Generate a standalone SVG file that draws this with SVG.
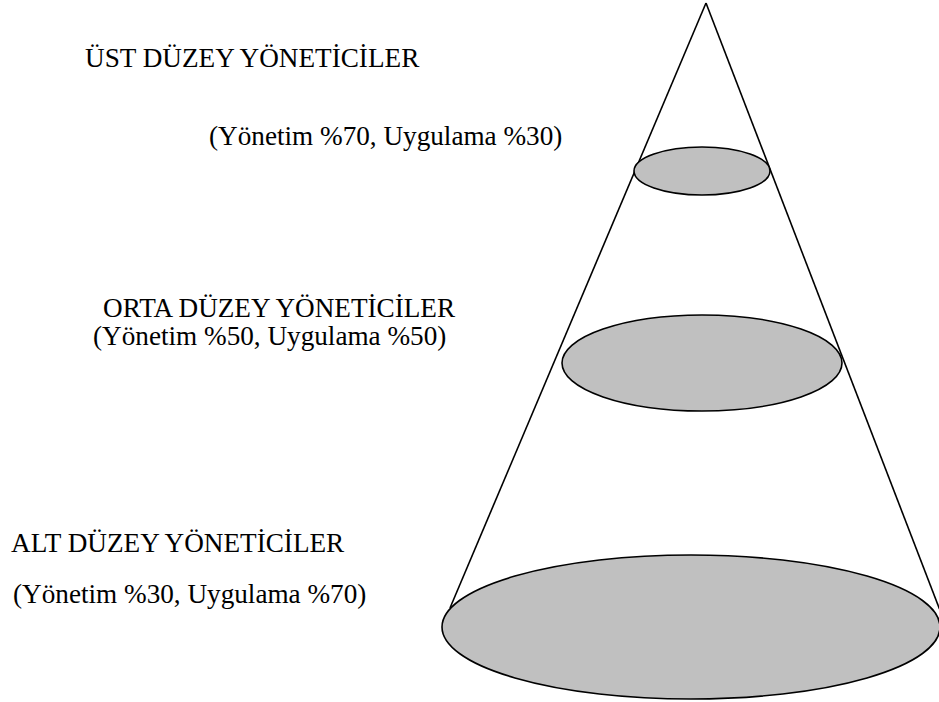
<svg xmlns="http://www.w3.org/2000/svg" width="939" height="702" viewBox="0 0 939 702">
<style>
.lbl{font-family:"Liberation Serif","Times New Roman",serif;font-size:27.2px;fill:#000}
.disc{fill:#c0c0c0;stroke:#000;stroke-width:1.6}
.edge{stroke:#000;stroke-width:1.6;fill:none}
</style>
<rect width="939" height="702" fill="#fff"/>
<g id="connectors">
<line class="edge" x1="706" y1="3" x2="450" y2="608"/>
<line class="edge" x1="706" y1="3" x2="939.5" y2="609"/>
</g>
<g id="top-level">
<ellipse class="disc" cx="702" cy="171" rx="68" ry="24"/>
<text class="lbl" x="85" y="67">ÜST DÜZEY YÖNETİCİLER</text>
<text class="lbl" x="209" y="145">(Yönetim %70, Uygulama %30)</text>
</g>
<g id="middle-level">
<ellipse class="disc" cx="702" cy="363" rx="140" ry="48"/>
<text class="lbl" x="103" y="317">ORTA DÜZEY YÖNETİCİLER</text>
<text class="lbl" x="93" y="345">(Yönetim %50, Uygulama %50)</text>
</g>
<g id="bottom-level">
<ellipse class="disc" cx="691" cy="627" rx="249" ry="72"/>
<text class="lbl" x="11" y="552">ALT DÜZEY YÖNETİCİLER</text>
<text class="lbl" x="13" y="603">(Yönetim %30, Uygulama %70)</text>
</g>
</svg>
